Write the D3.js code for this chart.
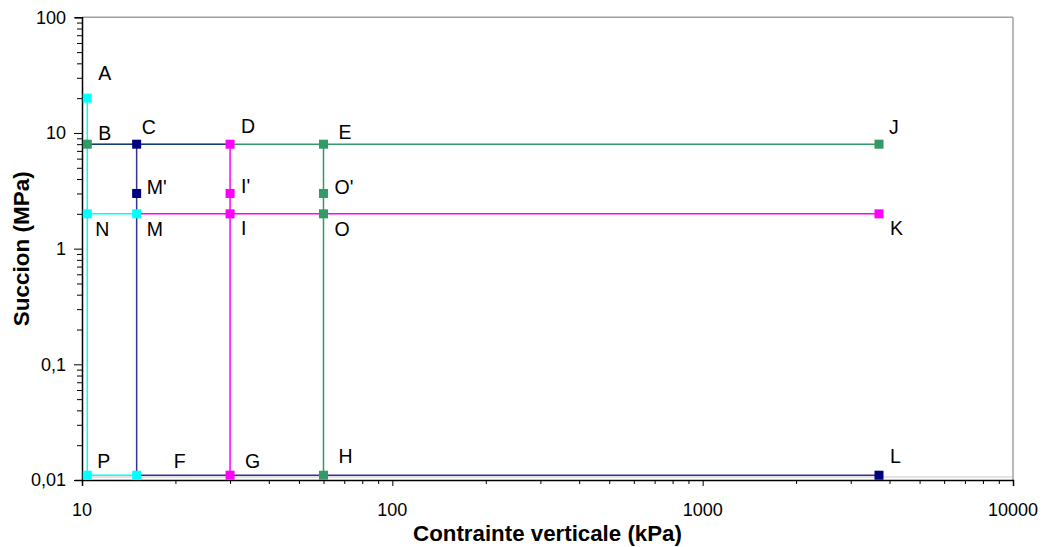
<!DOCTYPE html>
<html>
<head>
<meta charset="utf-8">
<script src="https://cdn.jsdelivr.net/npm/d3@7"></script>
<style>
  html, body { margin: 0; padding: 0; background: #fff; }
  svg { display: block; font-family: "Liberation Sans", Arial, sans-serif; }
</style>
</head>
<body>
<svg id="chart" width="1044" height="547"></svg>
<script>
// ---------- data ----------
const pointIds    = ["A","B","C","D","E","J","Mp","Ip","Op","N","M","I","O","K","P","F","G","H","L"];
const pointLabels = ["A","B","C","D","E","J","M'","I'","O'","N","M","I","O","K","P","F","G","H","L"];
const stressKPa   = [10.4,10.4,15,30,60,3700,15,30,60,10.4,15,30,60,3700,10.4,15,30,60,3700];
const suctionMPa  = [20,8,8,8,8,8,3,3,3,2,2,2,2,2,0.011,0.011,0.011,0.011,0.011];

const seriesNames  = ["cyan","green","magenta","navy"];
const seriesColors = ["#00FFFF","#339966","#FF00FF","#000080"];
const cyanPaths    = [["A","N","M"],["N","P","F"]];
const greenPaths   = [["B","E","J"],["E","Op","O","H"]];
const magentaPaths = [["D","Ip","I","G"],["M","I","K"]];
const navyPaths    = [["B","C","D"],["C","Mp","F","L"]];
const cyanMarkers    = ["A","N","M","P","F"];
const greenMarkers   = ["B","E","Op","O","H","J"];
const magentaMarkers = ["D","Ip","I","G","K"];
const navyMarkers    = ["C","Mp","L"];

const xTickValues = [10,100,1000,10000];
const xTickLabels = ["10","100","1000","10000"];
const yTickValues = [100,10,1,0.1,0.01];
const yTickLabels = ["100","10","1","0,1","0,01"];
const xTitle = "Contrainte verticale (kPa)";
const yTitle = "Succion (MPa)";

// ---------- layout ----------
const pLeft = 82, pRight = 1013, pTop = 17.3, pBottom = 480;
const labelOffset = {
  A:[11,-18], B:[11,-4], C:[5,-10], D:[11,-11], E:[15,-5], J:[10,-10],
  Mp:[10,1], Ip:[11,0], Op:[11,1], N:[8,22], M:[10,22], I:[11,21], O:[11,22], K:[11,21],
  P:[10,-7], F:[37,-7], G:[15,-7], H:[15,-12], L:[11,-12]
};

const svg = d3.select("#chart");
const x = d3.scaleLog().domain([10,10000]).range([pLeft,pRight]);
const y = d3.scaleLog().domain([0.01,100]).range([pBottom,pTop]);

const pts = {};
pointIds.forEach((id,i) => pts[id] = {id, label: pointLabels[i], x: stressKPa[i], y: suctionMPa[i]});

// plot border (grey top/right)
svg.append("line").attr("x1",pLeft).attr("x2",pRight).attr("y1",pTop).attr("y2",pTop)
  .attr("stroke","#a0a0a0").attr("stroke-width",1.5);
svg.append("line").attr("x1",pRight).attr("x2",pRight).attr("y1",pTop).attr("y2",pBottom)
  .attr("stroke","#a0a0a0").attr("stroke-width",1.5);
svg.append("line").attr("x1",pLeft).attr("x2",pRight).attr("y1",pBottom-3).attr("y2",pBottom-3)
  .attr("stroke","#c8c8c8").attr("stroke-width",1);

// minor tick values
function minors(lo, hi) {
  const out = [];
  for (let d = lo; d < hi; d *= 10) for (let k = 1; k <= 9; k++) out.push(d*k);
  out.push(hi);
  return out;
}
const xMajorSet = new Set(xTickValues);
const yMajorSet = new Set(yTickValues.map(v => +v.toPrecision(6)));

// x axis
const xAxis = d3.axisBottom(x).tickValues(minors(10,10000))
  .tickSize(6).tickFormat(() => "");
const gx = svg.append("g").attr("transform",`translate(0,${pBottom})`).call(xAxis);
gx.select(".domain").attr("stroke","#000").attr("stroke-width",1.5);
gx.selectAll(".tick line").attr("stroke","#000").attr("stroke-width",1)
  .attr("y2", d => xMajorSet.has(+d.toPrecision(6)) ? 6 : 4);
svg.append("g").selectAll("text").data(xTickValues).join("text")
  .attr("x", d => x(d)).attr("y", 516)
  .attr("text-anchor","middle").attr("font-size",18).attr("fill","#000")
  .text((d,i) => xTickLabels[i]);

// y axis
const yAxis = d3.axisLeft(y).tickValues(minors(0.01,100))
  .tickSize(7).tickFormat(() => "");
const gy = svg.append("g").attr("transform",`translate(${pLeft},0)`).call(yAxis);
gy.select(".domain").attr("stroke","#000").attr("stroke-width",1.5);
gy.selectAll(".tick line").attr("stroke","#000").attr("stroke-width",1)
  .attr("x2", d => yMajorSet.has(+d.toPrecision(6)) ? -8 : -5);
svg.append("g").selectAll("text").data(yTickValues).join("text")
  .attr("x", 66).attr("y", d => y(d)).attr("dy","0.36em")
  .attr("text-anchor","end").attr("font-size",18).attr("fill","#000")
  .text((d,i) => yTickLabels[i]);

// lines
const line = d3.line().x(d => x(d.x)).y(d => y(d.y));
const pathsBySeries = [cyanPaths, greenPaths, magentaPaths, navyPaths];
const markersBySeries = [cyanMarkers, greenMarkers, magentaMarkers, navyMarkers];
const gLines = svg.append("g").attr("fill","none");
pathsBySeries.forEach((paths,si) => {
  paths.forEach((p,pi) => {
    gLines.append("path")
      .attr("d", line(p.map(id => pts[id])))
      .attr("stroke", seriesColors[si])
      .attr("stroke-width", 1.5)
      .attr("stroke-opacity", (seriesNames[si]==="navy" && pi===0) ? 0.6 : (seriesNames[si]==="navy" ? 0.8 : 1));
  });
});

// markers
const ms = 9;
const gMarks = svg.append("g");
[3,2,1,0].forEach(si => {
  gMarks.selectAll(null).data(markersBySeries[si].map(id => pts[id])).join("rect")
    .attr("x", d => x(d.x) - ms/2).attr("y", d => y(d.y) - ms/2)
    .attr("width", ms).attr("height", ms)
    .attr("fill", seriesColors[si]);
});

// point labels
svg.append("g").selectAll("text").data(pointIds.map(id => pts[id])).join("text")
  .attr("x", d => x(d.x) + labelOffset[d.id][0])
  .attr("y", d => y(d.y) + labelOffset[d.id][1])
  .attr("font-size",19.5).attr("fill","#000")
  .text(d => d.label);

// axis titles
svg.append("text").attr("x",(pLeft+pRight)/2).attr("y",541)
  .attr("text-anchor","middle").attr("font-size",22.3).attr("font-weight","bold")
  .text(xTitle);
svg.append("text").attr("transform",`translate(29,${(pTop+pBottom)/2}) rotate(-90)`)
  .attr("text-anchor","middle").attr("font-size",22.5).attr("font-weight","bold")
  .text(yTitle);
</script>
</body>
</html>
